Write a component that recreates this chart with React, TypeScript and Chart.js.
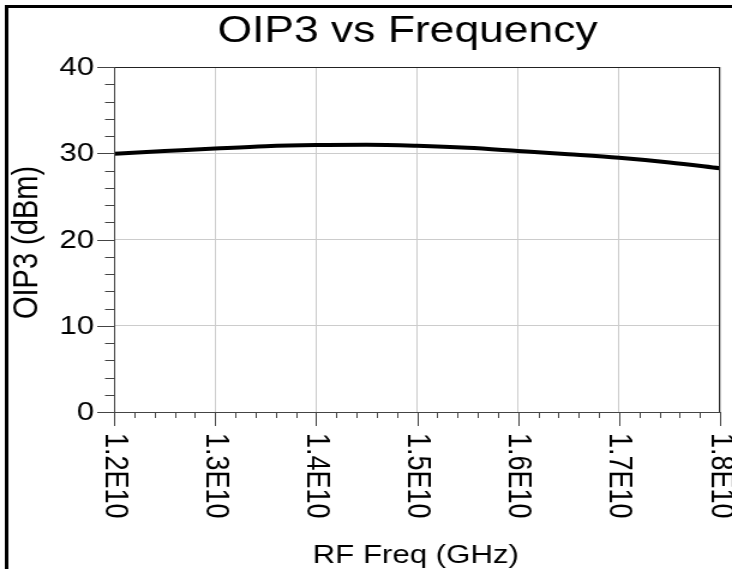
import { useEffect, useRef } from "react";
import { Chart, registerables } from "chart.js";

Chart.register(...registerables);

// ---- data ----
const frequenciesHz = [
  1.2e10, 1.25e10, 1.3e10, 1.35e10, 1.4e10, 1.45e10, 1.5e10, 1.55e10, 1.6e10, 1.65e10, 1.7e10, 1.75e10, 1.8e10,
];
const oip3Dbm = [29.95, 30.25, 30.55, 30.82, 30.95, 30.98, 30.86, 30.63, 30.26, 29.88, 29.47, 28.93, 28.25];

const xTickValues = [1.2e10, 1.3e10, 1.4e10, 1.5e10, 1.6e10, 1.7e10, 1.8e10];
const xTickLabels = ["1.2E10", "1.3E10", "1.4E10", "1.5E10", "1.6E10", "1.7E10", "1.8E10"];
const yTickValues = [0, 10, 20, 30, 40];
const yTickLabels = ["0", "10", "20", "30", "40"];
const xMinorStep = 2e8;
const yMinorStep = 2;

const chartTitle = "OIP3 vs Frequency";
const xAxisTitle = "RF Freq (GHz)";
const yAxisTitle = "OIP3 (dBm)";

const FONT = '"Liberation Sans", Arial, sans-serif';

const decorPlugin = {
  id: "decor",
  afterDraw(chart: any) {
    const ctx = chart.ctx as CanvasRenderingContext2D;
    const { left, right, top, bottom } = chart.chartArea;
    const xs = chart.scales.x;
    const ys = chart.scales.y;
    ctx.save();

    // outer frame (extends past right/bottom)
    ctx.strokeStyle = "#000";
    ctx.lineWidth = 3;
    ctx.strokeRect(5.5, 6.5, chart.width + 40, chart.height + 40);

    // plot top/right border
    ctx.lineWidth = 1;
    ctx.strokeStyle = "#222";
    ctx.beginPath();
    ctx.moveTo(left, Math.round(top) + 0.5);
    ctx.lineTo(right, Math.round(top) + 0.5);
    ctx.moveTo(Math.round(right) - 0.5, top);
    ctx.lineTo(Math.round(right) - 0.5, bottom);
    ctx.stroke();

    // axes lines
    ctx.strokeStyle = "#444";
    ctx.beginPath();
    ctx.moveTo(Math.round(left) + 0.5, top);
    ctx.lineTo(Math.round(left) + 0.5, bottom + 1);
    ctx.moveTo(left, Math.round(bottom) + 0.5);
    ctx.lineTo(right, Math.round(bottom) + 0.5);
    ctx.stroke();

    // y ticks
    ctx.beginPath();
    const yMin = yTickValues[0];
    const yMax = yTickValues[yTickValues.length - 1];
    for (let v = yMin; v <= yMax + 1e-9; v += yMinorStep) {
      const py = Math.round(ys.getPixelForValue(v)) + 0.5;
      const isMajor = yTickValues.some((t) => Math.abs(t - v) < 1e-6);
      ctx.moveTo(left - (isMajor ? 14 : 7.5), py);
      ctx.lineTo(left, py);
    }
    // x ticks
    const xMin = xTickValues[0];
    const xMax = xTickValues[xTickValues.length - 1];
    for (let v = xMin; v <= xMax + 1; v += xMinorStep) {
      const px = Math.round(xs.getPixelForValue(v)) + 0.5;
      const isMajor = xTickValues.some((t) => Math.abs(t - v) < 1e3);
      ctx.moveTo(px, bottom);
      ctx.lineTo(px, bottom + (isMajor ? 14 : 6));
    }
    ctx.stroke();

    ctx.fillStyle = "#000";
    // y tick labels
    ctx.font = `26px ${FONT}`;
    ctx.textAlign = "right";
    ctx.textBaseline = "middle";
    yTickValues.forEach((v, i) => {
      ctx.fillText(yTickLabels[i], left - 16.5, ys.getPixelForValue(v) + 1);
    });

    // x tick labels rotated clockwise
    ctx.font = `27px ${FONT}`;
    xTickValues.forEach((v, i) => {
      const px = xs.getPixelForValue(v);
      ctx.save();
      ctx.translate(px, bottom + 21);
      ctx.rotate(Math.PI / 2);
      ctx.textAlign = "left";
      ctx.textBaseline = "middle";
      ctx.fillText(xTickLabels[i], 0, 0);
      ctx.restore();
    });

    // title
    ctx.font = `37px ${FONT}`;
    ctx.textAlign = "center";
    ctx.textBaseline = "alphabetic";
    ctx.fillText(chartTitle, 339.6, 42);

    // x axis title
    ctx.font = `26px ${FONT}`;
    ctx.fillText(xAxisTitle, (left + right) / 2 - 1, 563);

    // y axis title
    ctx.save();
    ctx.translate(23, (top + bottom) / 2 + 3);
    ctx.rotate(-Math.PI / 2);
    ctx.font = `29px ${FONT}`;
    ctx.textAlign = "center";
    ctx.textBaseline = "middle";
    ctx.fillText(yAxisTitle, 0, 0);
    ctx.restore();

    ctx.restore();
  },
};

export default function App() {
  const canvasRef = useRef<HTMLCanvasElement | null>(null);

  useEffect(() => {
    const canvas = canvasRef.current;
    if (!canvas) return;
    const points = frequenciesHz.map((f, i) => ({ x: f, y: oip3Dbm[i] }));
    const chart = new Chart(canvas, {
      type: "line",
      data: {
        datasets: [
          {
            data: points,
            borderColor: "#000",
            borderWidth: 4,
            pointRadius: 0,
            fill: false,
            cubicInterpolationMode: "monotone",
          },
        ],
      },
      options: {
        responsive: false,
        maintainAspectRatio: false,
        animation: false,
        devicePixelRatio: 1,
        layout: { padding: { left: 0, top: 67, right: 10, bottom: 0 } },
        plugins: {
          legend: { display: false },
          tooltip: { enabled: false },
          title: { display: false },
        },
        scales: {
          x: {
            type: "linear",
            min: xTickValues[0],
            max: xTickValues[xTickValues.length - 1],
            ticks: { display: false, stepSize: 1e9 },
            grid: { color: "#cccccc", lineWidth: 1, drawTicks: false },
            border: { display: false },
            afterFit: (scale: any) => {
              scale.height = 157;
            },
          },
          y: {
            type: "linear",
            min: yTickValues[0],
            max: yTickValues[yTickValues.length - 1],
            ticks: { display: false, stepSize: 10 },
            grid: { color: "#cccccc", lineWidth: 1, drawTicks: false },
            border: { display: false },
            afterFit: (scale: any) => {
              scale.width = 95;
            },
          },
        },
      },
      plugins: [decorPlugin],
    });
    return () => chart.destroy();
  }, []);

  return (
    <div style={{ position: "fixed", left: 0, top: 0, width: 732, height: 569, background: "#fff" }}>
      <canvas
        ref={canvasRef}
        width={610}
        height={569}
        style={{ width: "732px", height: "569px", display: "block" }}
      />
    </div>
  );
}
